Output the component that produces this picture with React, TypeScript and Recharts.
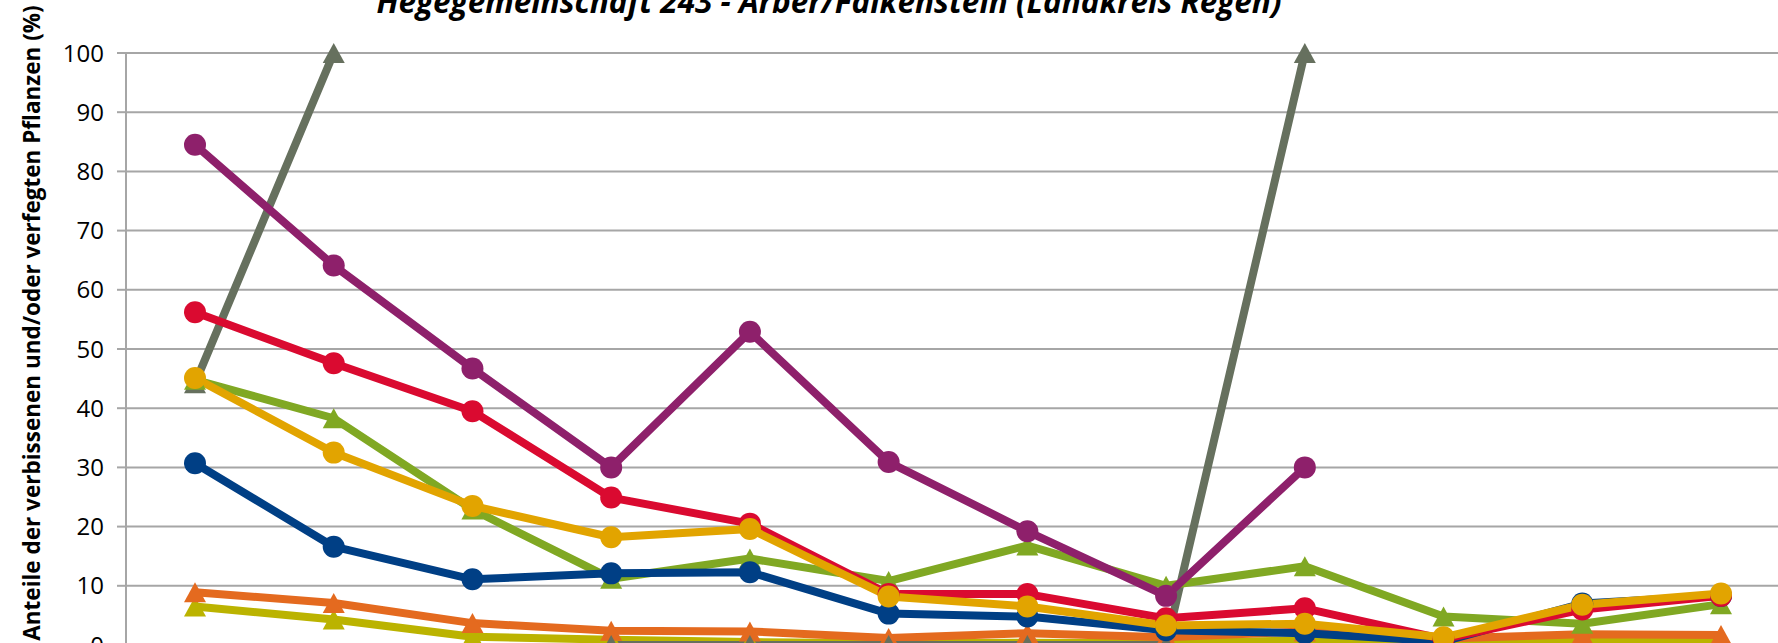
import React from 'react';
import { LineChart, Line, XAxis, YAxis, CartesianGrid } from 'recharts';

const years = ['1991', '1994', '1997', '2000', '2003', '2006', '2009', '2012', '2015', '2018', '2021', '2024'];
const yTicks = [0, 10, 20, 30, 40, 50, 60, 70, 80, 90, 100];

// values (percent)
const blueVals = [30.7, 16.6, 11.1, 12.1, 12.3, 5.3, 4.8, 2.5, 2.0, 0.6, 7.0, 8.3];
const redVals = [56.2, 47.6, 39.5, 24.9, 20.5, 8.6, 8.6, 4.5, 6.2, 1.0, 6.0, 8.3];
const goldVals = [45.1, 32.5, 23.5, 18.2, 19.6, 8.2, 6.5, 3.3, 3.6, 1.3, 6.8, 8.7];
const purpleVals = [84.5, 64.1, 46.7, 30.0, 52.9, 30.9, 19.2, 8.3, 30.0, null, null, null];
const greenVals = [44.8, 38.3, 22.9, 11.2, 14.6, 10.8, 16.8, 10.0, 13.3, 4.8, 3.6, 6.9];
const orangeVals = [8.9, 7.1, 3.7, 2.4, 2.3, 1.2, 2.0, 1.3, 2.3, 1.1, 1.8, 1.7];
const oliveVals = [6.5, 4.3, 1.4, 0.9, 0.5, 0.3, 0.4, 0.3, 0.8, 0.5, 0.6, 0.5];
const greyVals = [44.2, 100, null, 0, 0, 0, 0, 0, 100, null, null, null];
const indigoVals = [null, null, null, null, null, null, null, null, 0, null, null, null];

const rows = years.map((year, i) => ({
  year,
  indigo: indigoVals[i],
  olive: oliveVals[i],
  orange: orangeVals[i],
  grey: greyVals[i],
  green: greenVals[i],
  blue: blueVals[i],
  red: redVals[i],
  gold: goldVals[i],
  purple: purpleVals[i],
}));

// draw order bottom -> top
const series = [
  { key: 'indigo', color: '#4A2A72', shape: 'tri' },
  { key: 'olive', color: '#BBB300', shape: 'tri' },
  { key: 'orange', color: '#E46A1F', shape: 'tri' },
  { key: 'grey', color: '#66705E', shape: 'tri' },
  { key: 'green', color: '#80A823', shape: 'tri' },
  { key: 'blue', color: '#003F85', shape: 'circle' },
  { key: 'red', color: '#DA0A30', shape: 'circle' },
  { key: 'gold', color: '#E2A400', shape: 'circle' },
  { key: 'purple', color: '#8E206B', shape: 'circle' },
];

const makeDot = (color: string, shape: string) => (props: any) => {
  const { cx, cy, index, value } = props;
  const k = `${shape}-${color}-${index}`;
  if (cx == null || cy == null || value == null) return <g key={k} />;
  if (shape === 'circle') return <circle key={k} cx={cx} cy={cy} r={11} fill={color} />;
  return <path key={k} d={`M${cx},${cy - 10}L${cx + 11},${cy + 10}L${cx - 11},${cy + 10}Z`} fill={color} />;
};

const font = '"Open Sans", sans-serif';

export default function App() {
  return (
    <div style={{ position: 'fixed', left: 0, top: 0, width: 1778, height: 643, overflow: 'hidden', background: '#fff' }}>
      <LineChart width={1800} height={695} data={rows} margin={{ top: 53, right: 10, bottom: 10, left: 10 }}>
        <CartesianGrid vertical={false} stroke="#a6a6a6" strokeWidth={2} />
        <XAxis
          dataKey="year"
          height={40}
          padding={{ left: 69, right: 69 }}
          axisLine={{ stroke: '#a6a6a6', strokeWidth: 2 }}
          tickLine={false}
          tick={false}
        />
        <YAxis
          width={116}
          domain={[0, 100]}
          ticks={yTicks}
          interval={0}
          tickSize={9}
          tickMargin={13}
          axisLine={{ stroke: '#a6a6a6', strokeWidth: 2 }}
          tickLine={{ stroke: '#a6a6a6', strokeWidth: 2 }}
          tick={{ fontSize: 24, fill: '#000', fontFamily: font }}
        />
        {series.map((s) => (
          <Line
            key={s.key}
            dataKey={s.key}
            stroke={s.color}
            strokeWidth={8}
            strokeLinejoin="round"
            dot={makeDot(s.color, s.shape)}
            activeDot={false}
            isAnimationActive={false}
          />
        ))}
      </LineChart>
      <svg width={1778} height={643} style={{ position: 'absolute', left: 0, top: 0, pointerEvents: 'none' }}>
        <text x={829} y={13} textAnchor="middle" fontFamily={font} fontWeight="bold" fontStyle="italic" fontSize={31.5} fill="#000">
          Hegegemeinschaft 243 - Arber/Falkenstein (Landkreis Regen)
        </text>
        <text transform="translate(40, 323) rotate(-90)" textAnchor="middle" fontFamily={font} fontWeight="bold" fontSize={22.5} fill="#000">
          Anteile der verbissenen und/oder verfegten Pflanzen (%)
        </text>
      </svg>
    </div>
  );
}
